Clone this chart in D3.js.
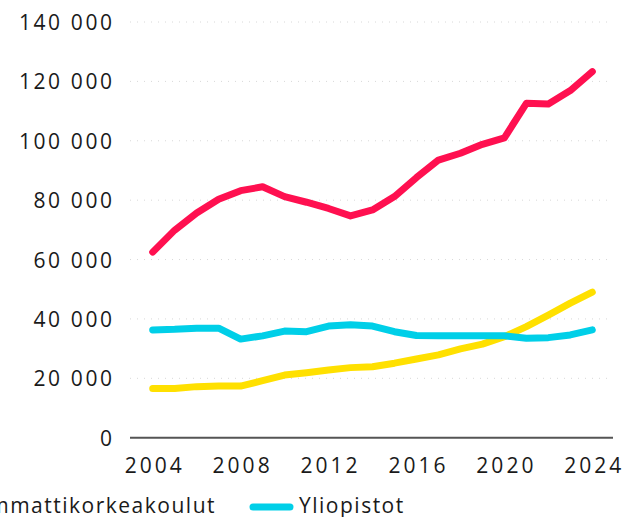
<!DOCTYPE html>
<html lang="fi">
<meta charset="utf-8" />
<style>
  body { margin: 0; background: #fff; }
  text { font-family: "Open Sans", sans-serif; fill: #1a1a1a; }
</style>
<svg width="629" height="517"></svg>
<script src="https://d3js.org/d3.v7.min.js"></script>
<script>
var years = d3.range(2004, 2025);

// punainen sarja (selite jää kuvan vasemman reunan ulkopuolelle)
var punainen = [62500, 69900, 75700, 80300, 83200, 84500, 81200, 79300, 77200, 74700,
  76700, 81200, 87600, 93500, 95800, 98800, 101000, 112600, 112400, 116900, 123300];
var ammattikorkeakoulut = [16600, 16600, 17200, 17400, 17400, 19200, 21100, 21900, 22800, 23600,
  23900, 25100, 26500, 27900, 29900, 31500, 34000, 37400, 41300, 45300, 49000];
var yliopistot = [36300, 36500, 36900, 36900, 33200, 34300, 35900, 35700, 37600, 38000,
  37600, 35700, 34400, 34300, 34300, 34300, 34300, 33500, 33700, 34600, 36300];

var yTicks = [0, 20000, 40000, 60000, 80000, 100000, 120000, 140000];
var xTicks = [2004, 2008, 2012, 2016, 2020, 2024];

var series = [
  { name: "Ammattikorkeakoulut", values: ammattikorkeakoulut, color: "#ffe000" },
  { name: "Yliopistot", values: yliopistot, color: "#00cfe8" },
  { name: null, values: punainen, color: "#ff1050" }
];

var svg = d3.select("svg");

var x = d3.scaleLinear().domain([2004, 2024]).range([152.7, 592.3]);
var y = d3.scaleLinear().domain([0, 140000]).range([437.7, 22]);

var fmt = function(d) { return d3.format(",")(d).replace(/,/g, " "); };

// ruudukko
svg.append("g")
  .selectAll("line")
  .data(yTicks.slice(1))
  .enter().append("line")
    .attr("x1", 130).attr("x2", 612)
    .attr("y1", function(d) { return y(d); })
    .attr("y2", function(d) { return y(d); })
    .attr("stroke", "#d8d8d8")
    .attr("stroke-width", 1)
    .attr("stroke-dasharray", "1,6");

// y-akseli
var yAxis = svg.append("g")
  .attr("transform", "translate(114.6,0)")
  .call(d3.axisLeft(y).tickValues(yTicks).tickSize(0).tickPadding(0).tickFormat(fmt));
yAxis.select(".domain").remove();
yAxis.selectAll("text")
  .attr("font-size", 21)
  .attr("letter-spacing", 2.6)
  .attr("dy", "0.36em")
  .attr("fill", "#1a1a1a");

// x-akseli
var xAxis = svg.append("g")
  .attr("transform", "translate(1.5," + y(0) + ")")
  .call(d3.axisBottom(x).tickValues(xTicks).tickSize(0).tickPadding(20).tickFormat(d3.format("d")));
xAxis.select(".domain").remove();
xAxis.selectAll("text")
  .attr("font-size", 21)
  .attr("letter-spacing", 3)
  .attr("fill", "#1a1a1a");

svg.append("line")
  .attr("x1", 130).attr("x2", 613)
  .attr("y1", y(0)).attr("y2", y(0))
  .attr("stroke", "#555")
  .attr("stroke-width", 2);

// viivat
var line = d3.line()
  .x(function(d, i) { return x(years[i]); })
  .y(function(d) { return y(d); });

svg.append("g")
  .selectAll("path")
  .data(series)
  .enter().append("path")
    .attr("d", function(s) { return line(s.values); })
    .attr("fill", "none")
    .attr("stroke", function(s) { return s.color; })
    .attr("stroke-width", 7)
    .attr("stroke-linecap", "round")
    .attr("stroke-linejoin", "round");

// selite
var legend = svg.append("g").attr("transform", "translate(0,513)");
var items = series.filter(function(s) { return s.name; });
var sx = 250;
// Yliopistot
legend.append("line")
  .attr("x1", sx + 3).attr("x2", sx + 40)
  .attr("y1", -6).attr("y2", -6)
  .attr("stroke", items[1].color)
  .attr("stroke-width", 7)
  .attr("stroke-linecap", "round");
legend.append("text")
  .attr("x", sx + 49)
  .attr("font-size", 21)
  .attr("letter-spacing", 1.5)
  .text(items[1].name);
// Ammattikorkeakoulut (alkaa vasemman reunan ulkopuolelta)
var t = legend.append("text")
  .attr("x", 0)
  .attr("font-size", 21)
  .attr("letter-spacing", 1.5)
  .text(items[0].name);
var w = t.node().getComputedTextLength();
t.attr("x", 216 - w);
legend.append("line")
  .attr("x1", 216 - w - 49).attr("x2", 216 - w - 12)
  .attr("y1", -6).attr("y2", -6)
  .attr("stroke", items[0].color)
  .attr("stroke-width", 7)
  .attr("stroke-linecap", "round");
</script>
</html>
